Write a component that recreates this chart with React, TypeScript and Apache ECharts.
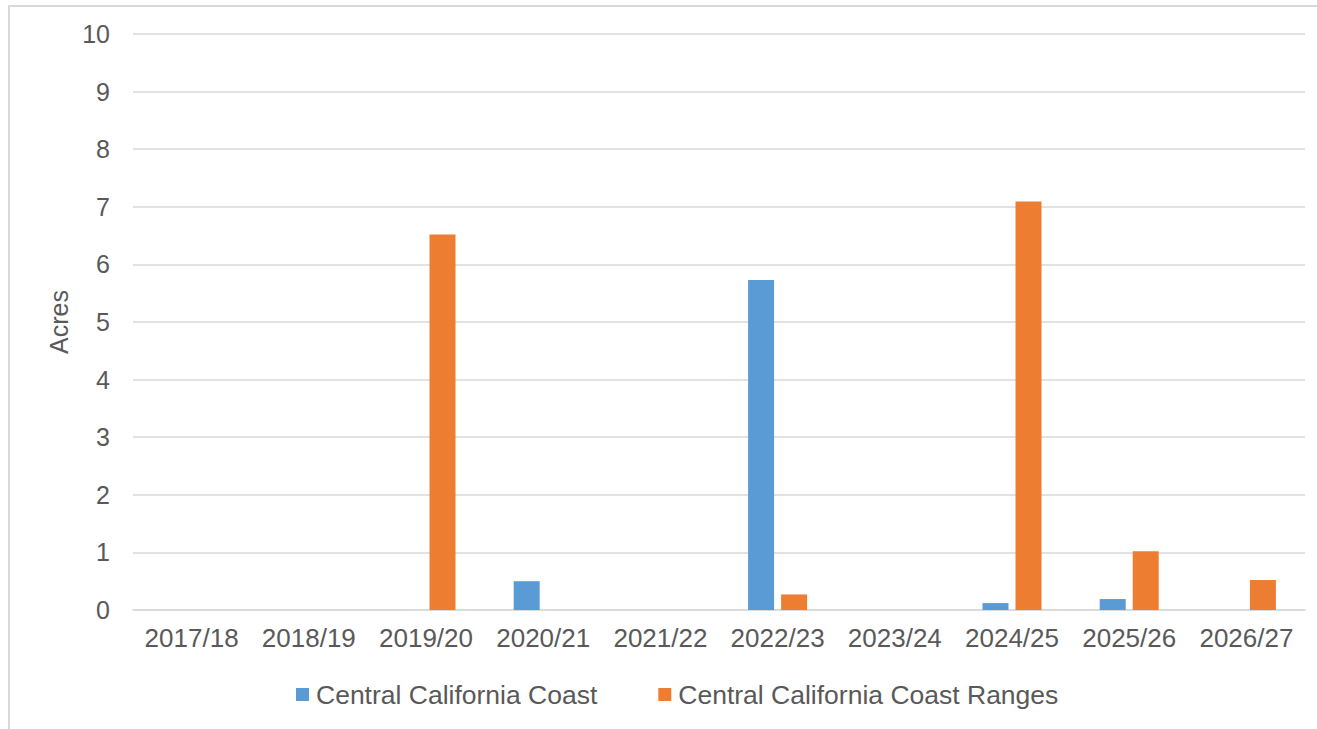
import React, { useEffect, useRef } from "react";
import * as echarts from "echarts";

const categories = ["2017/18", "2018/19", "2019/20", "2020/21", "2021/22", "2022/23", "2023/24", "2024/25", "2025/26", "2026/27"];
const coastValues = [0, 0, 0, 0.5, 0, 5.73, 0, 0.12, 0.19, 0];
const rangesValues = [0, 0, 6.52, 0, 0, 0.27, 0, 7.09, 1.02, 0.52];
const yTicks = { min: 0, max: 10, interval: 1 };

export default function App() {
  const ref = useRef<HTMLDivElement>(null);
  useEffect(() => {
    if (!ref.current) return;
    const chart = echarts.init(ref.current, null, { renderer: "svg" });
    const font = "'Liberation Sans', Arial, sans-serif";
    chart.setOption({
      animation: false,
      backgroundColor: "#ffffff",
      textStyle: { fontFamily: font },
      grid: { left: 133, right: 12, top: 34, bottom: 119, containLabel: false },
      legend: {
        left: 296,
        top: 681,
        padding: 0,
        itemWidth: 13,
        itemHeight: 13,
        itemGap: 61,
        icon: "rect",
        textStyle: { fontSize: 26.5, color: "#595959", fontFamily: font, padding: [0, 0, 0, 2] },
        data: ["Central California Coast", "Central California Coast Ranges"],
      },
      xAxis: {
        type: "category",
        data: categories,
        axisLine: { show: true, lineStyle: { color: "#d9d9d9", width: 1.5 } },
        axisTick: { show: false },
        axisLabel: { fontSize: 26, color: "#595959", margin: 15, fontFamily: font, interval: 0 },
      },
      yAxis: {
        type: "value",
        min: yTicks.min,
        max: yTicks.max,
        interval: yTicks.interval,
        name: "Acres",
        nameLocation: "middle",
        nameGap: 60,
        nameRotate: 90,
        nameTextStyle: { fontSize: 25, color: "#595959", fontFamily: font },
        axisLine: { show: false },
        axisTick: { show: false },
        axisLabel: { fontSize: 25, color: "#595959", margin: 23, fontFamily: font },
        splitLine: { lineStyle: { color: "#d9d9d9", width: 1.5 } },
      },
      series: [
        {
          name: "Central California Coast",
          type: "bar",
          data: coastValues,
          barWidth: 26,
          barGap: "27%",
          itemStyle: { color: "#5B9BD5" },
        },
        {
          name: "Central California Coast Ranges",
          type: "bar",
          data: rangesValues,
          barWidth: 26,
          barGap: "27%",
          itemStyle: { color: "#ED7D31" },
        },
      ],
    });
    return () => chart.dispose();
  }, []);
  return (
    <div style={{ position: "absolute", left: 0, top: 0, width: 1317, height: 729, overflow: "hidden", background: "#fff" }}>
      <div ref={ref} style={{ position: "absolute", left: 0, top: 0, width: 1317, height: 729 }} />
      <div
        style={{
          position: "absolute",
          left: 8,
          top: 5,
          width: 1340,
          height: 760,
          borderTop: "2px solid #d9d9d9",
          borderLeft: "2px solid #d9d9d9",
          pointerEvents: "none",
        }}
      />
    </div>
  );
}
